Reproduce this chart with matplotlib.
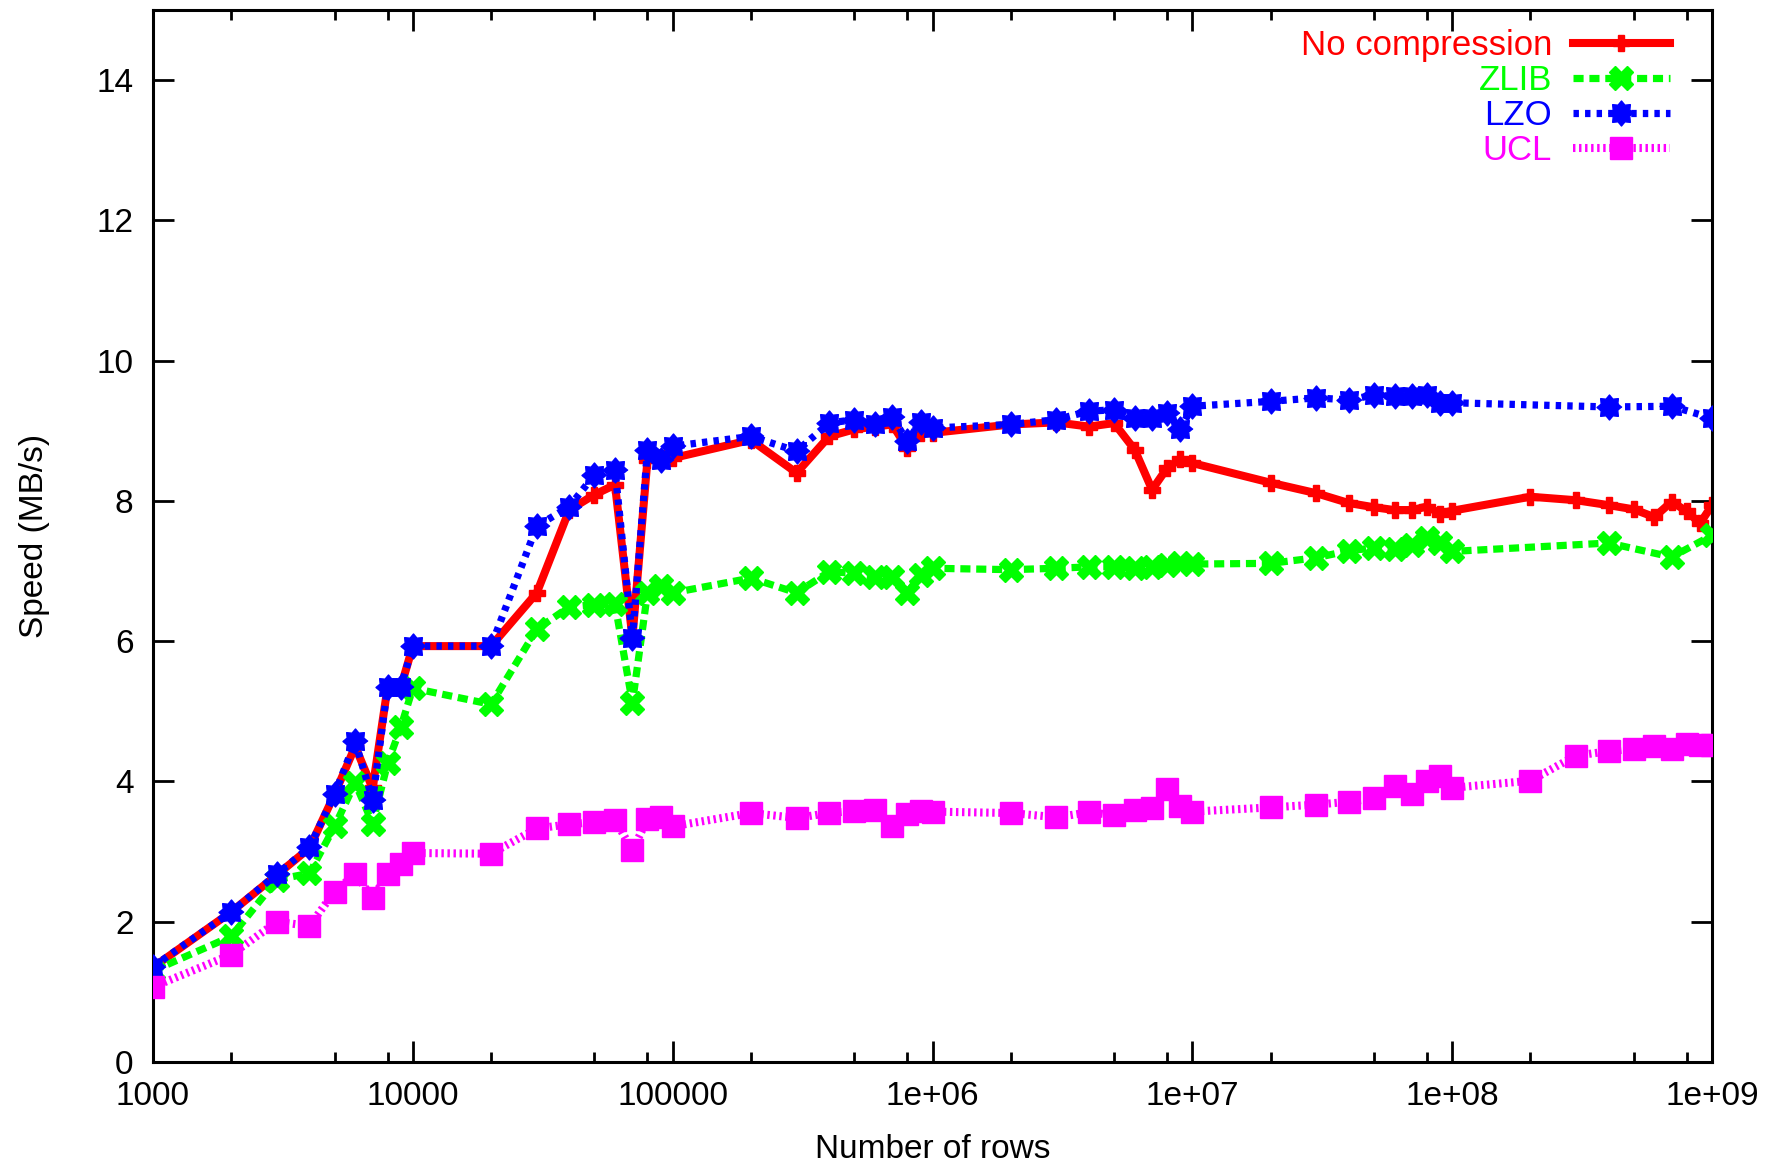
import numpy as np
import matplotlib
matplotlib.use("Agg")
import matplotlib.pyplot as plt
from matplotlib.ticker import FixedLocator, NullFormatter

plt.rcParams['font.family'] = ['Liberation Sans', 'DejaVu Sans']

# number of rows (x) for every measurement
rows = [1e3, 2e3, 3e3, 4e3, 5e3, 6e3, 7e3, 8e3, 9e3,
        1e4, 2e4, 3e4, 4e4, 5e4, 6e4, 7e4, 8e4, 9e4,
        1e5, 2e5, 3e5, 4e5, 5e5, 6e5, 7e5, 8e5, 9e5,
        1e6, 2e6, 3e6, 4e6, 5e6, 6e6, 7e6, 8e6, 9e6,
        1e7, 2e7, 3e7, 4e7, 5e7, 6e7, 7e7, 8e7, 9e7,
        1e8, 2e8, 3e8, 4e8, 5e8, 6e8, 7e8, 8e8, 9e8,
        1e9]

nan = np.nan
# speeds in MB/s (nan = no point there)
no_compression = [1.35, 2.14, 2.67, 3.05, 3.82, 4.50, 3.90, 5.35, 5.35,
                  5.93, 5.93, 6.69, 7.87, 8.09, 8.23, 6.05, 8.59, 8.61,
                  8.61, 8.87, 8.40, 8.92, 9.02, 9.06, 9.09, 8.75, 8.97,
                  8.97, 9.09, 9.12, 9.06, 9.11, 8.73, 8.16, 8.47, 8.60,
                  8.54, 8.26, 8.11, 7.97, 7.91, 7.87, 7.87, 7.92, 7.82,
                  7.86, 8.06, 8.01, 7.94, 7.88, 7.77, 7.99, 7.85, 7.68,
                  7.94]
zlib = [1.30, 1.79, 2.60, 2.69, 3.36, 3.98, 3.40, 4.26, 4.78,
        5.33, 5.10, 6.17, 6.49, 6.52, 6.53, 5.12, 6.69, 6.78,
        6.69, 6.90, 6.69, 6.99, 6.97, 6.92, 6.92, 6.69, 6.95,
        7.04, 7.02, 7.04, 7.06, 7.06, 7.04, 7.06, 7.09, 7.11,
        7.10, 7.11, 7.19, 7.29, 7.33, 7.31, 7.37, 7.47, 7.40,
        7.28, nan, nan, 7.40, nan, nan, 7.20, nan, nan,
        7.51]
lzo = [1.36, 2.14, 2.68, 3.06, 3.82, 4.57, 3.74, 5.35, 5.35,
       5.93, 5.93, 7.64, 7.92, 8.37, 8.44, 6.04, 8.73, 8.59,
       8.78, 8.92, 8.71, 9.11, 9.16, 9.09, 9.20, 8.85, 9.13,
       9.04, 9.09, 9.16, 9.28, 9.30, 9.18, 9.18, 9.26, 9.02,
       9.35, 9.42, 9.47, 9.44, 9.51, 9.49, 9.49, 9.51, 9.40,
       9.40, nan, nan, 9.34, nan, nan, 9.35, nan, nan,
       9.18]
ucl = [1.07, 1.53, 2.00, 1.94, 2.43, 2.68, 2.34, 2.68, 2.83,
       2.98, 2.97, 3.33, 3.39, 3.42, 3.45, 3.02, 3.46, 3.50,
       3.36, 3.55, 3.48, 3.55, 3.58, 3.59, 3.37, 3.53, 3.58,
       3.57, 3.55, 3.49, 3.56, 3.52, 3.59, 3.62, 3.89, 3.65,
       3.57, 3.63, 3.67, 3.71, 3.76, 3.94, 3.82, 4.00, 4.08,
       3.91, 4.01, 4.37, 4.43, 4.47, 4.50, 4.47, 4.54, 4.52,
       4.52]

x_major = [1e3, 1e4, 1e5, 1e6, 1e7, 1e8, 1e9]
x_labels = ['1000', '10000', '100000', '1e+06', '1e+07', '1e+08', '1e+09']
x_minor = [m * 10 ** d for d in range(3, 9) for m in (2, 5, 8)]
y_ticks = [0, 2, 4, 6, 8, 10, 12, 14]

# gnuplot-like "+ and x" blob marker
ang = np.linspace(0, 2 * np.pi, 16, endpoint=False)
rad = np.where(np.arange(16) % 2 == 0, 1.0, 0.72)
star = list(zip(rad * np.cos(ang), rad * np.sin(ang)))

fig = plt.figure(figsize=(17.75, 11.66), dpi=100)
ax = fig.add_axes([153 / 1775, 1 - 1062 / 1166, (1712 - 153) / 1775, (1062 - 10) / 1166])

def pts(ys):
    ys = np.array(ys, dtype=float)
    ok = ~np.isnan(ys)
    return np.array(rows)[ok], ys[ok]

x, y = pts(no_compression)
ax.plot(x, y, color='#ff0000', lw=5.8, ls='-', marker='P', ms=11,
        label='No compression', zorder=2)
x, y = pts(zlib)
ax.plot(x, y, color='#00ff00', lw=5.2, ls=(0, (1.4, 0.8)), dash_capstyle='butt',
        marker='X', ms=17, label='ZLIB', zorder=3)
x, y = pts(lzo)
ax.plot(x, y, color='#0000ff', lw=5.2, ls=(0, (0.75, 0.85)), dash_capstyle='butt',
        marker=star, ms=18, label='LZO', zorder=4)
x, y = pts(ucl)
ax.plot(x, y, color='#ff00ff', lw=5.8, ls=(0, (0.3, 0.45)), dash_capstyle='butt',
        marker='s', ms=16, label='UCL', zorder=5)

ax.set_xscale('log')
ax.set_xlim(1e3, 1e9)
ax.set_ylim(0, 15)
ax.xaxis.set_major_locator(FixedLocator(x_major))
ax.set_xticklabels(x_labels)
ax.xaxis.set_minor_locator(FixedLocator(x_minor))
ax.xaxis.set_minor_formatter(NullFormatter())
ax.set_yticks(y_ticks)
ax.tick_params(which='major', direction='in', length=15, width=2,
               top=True, right=True, labelsize=24, pad=14)
ax.tick_params(which='minor', direction='in', length=7.5, width=2,
               top=True, right=True)
for s in ax.spines.values():
    s.set_linewidth(2.2)

ax.set_xlabel('Number of rows', fontsize=24)
ax.xaxis.set_label_coords(0.5, -0.068)
ax.set_ylabel('Speed (MB/s)', fontsize=24)
ax.yaxis.set_label_coords(-0.066, 0.5)

leg = ax.legend(loc='upper right', bbox_to_anchor=(1670 / 1775, 0.975),
                bbox_transform=fig.transFigure, frameon=False, fontsize=25,
                markerfirst=False, handlelength=2.8, handletextpad=0.6,
                labelspacing=0.06, borderpad=0, borderaxespad=0, numpoints=1)
for t, c in zip(leg.get_texts(), ['#ff0000', '#00ff00', '#0000ff', '#ff00ff']):
    t.set_color(c)

fig.savefig('out.png', dpi=100)
